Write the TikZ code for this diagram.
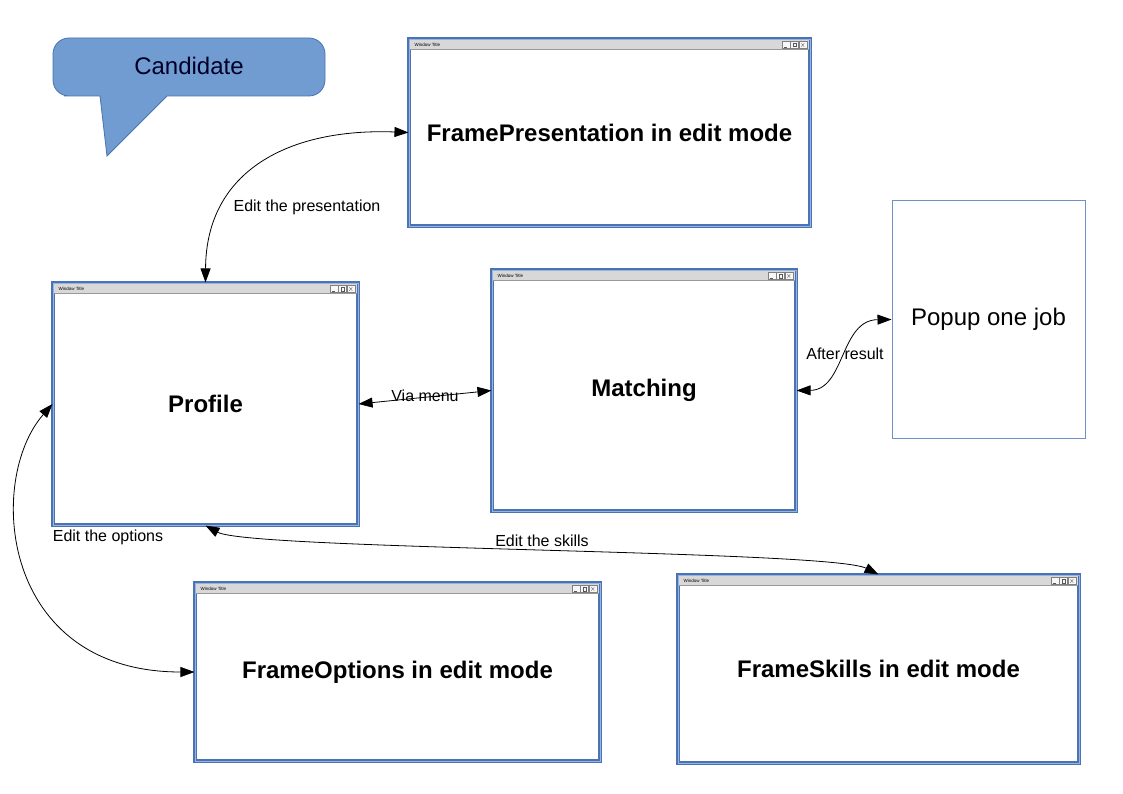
\documentclass[tikz,border=0pt]{standalone}
\usepackage{fontspec}
\setmainfont{Liberation Sans}
\usetikzlibrary{arrows.meta}
\definecolor{winblue}{RGB}{75,115,180}
\definecolor{winlight}{RGB}{150,180,225}
\definecolor{titlegray}{RGB}{216,216,216}
\definecolor{callfill}{RGB}{112,156,210}
\definecolor{calldraw}{RGB}{75,115,175}
\definecolor{popblue}{RGB}{110,145,200}
\tikzset{
 win/.style={draw=winblue, line width=1.1pt, double=winlight, double distance=0.9pt, fill=white, font=\fontsize{24}{28}\selectfont\bfseries, inner sep=0pt},
 popup/.style={draw=popblue, line width=1pt, fill=white, font=\fontsize{24}{28}\selectfont, inner sep=0pt},
 conn/.style={line width=0.8pt, {Triangle[length=14pt,width=10pt]}-{Triangle[length=14pt,width=10pt]}},
 elabel/.style={font=\fontsize{16}{19}\selectfont, inner sep=0pt},
 tbtn/.style={draw=gray, line width=0.4pt, fill=white!94!gray},
 tmark/.style={draw=gray!70!black, line width=0.3pt},
 ttext/.style={font=\fontsize{4.5}{5}\selectfont, anchor=west, inner sep=0pt}
}
\newcommand\winchrome[1]{%
 \fill[titlegray] ([shift={(1.8pt,-1.8pt)}]#1.north west) rectangle ([shift={(-1.8pt,-11pt)}]#1.north east);
 \draw[gray!80, line width=0.5pt] ([shift={(1.8pt,-11pt)}]#1.north west) -- ([shift={(-1.8pt,-11pt)}]#1.north east);
 \node[ttext] at ([shift={(6pt,-6.3pt)}]#1.north west) {Window Title};
 \foreach \i in {1,2,3} {
  \draw[tbtn] ([shift={({-3pt-\i*8.5pt},-3pt)}]#1.north east) rectangle ([shift={({-3.5pt-(\i-1)*8.5pt},-10pt)}]#1.north east);
 }
 \draw[tmark] ([shift={(-9.3pt,-4.8pt)}]#1.north east) -- ([shift={(-6.3pt,-8.2pt)}]#1.north east)
   ([shift={(-9.3pt,-8.2pt)}]#1.north east) -- ([shift={(-6.3pt,-4.8pt)}]#1.north east);
 \draw[tmark] ([shift={(-17.8pt,-4.8pt)}]#1.north east) rectangle ([shift={(-14.8pt,-8.2pt)}]#1.north east);
 \draw[tmark] ([shift={(-26.5pt,-8.4pt)}]#1.north east) -- ([shift={(-23.3pt,-8.4pt)}]#1.north east);
}
\begin{document}
\begin{tikzpicture}[x=1pt,y=-1pt]
\useasboundingbox (0,0) rectangle (1123,794);
\fill[white] (0,0) rectangle (1123,794);

% callout
\path[fill=callfill, draw=calldraw, line width=0.8pt] (80,96) -- (100,96) -- (107,156) -- (167,96) [rounded corners=16pt] -- (325,96) -- (325,38) -- (53,38) -- (53,96) -- cycle;
\node[font=\fontsize{24}{28}\selectfont, text=black!85!blue] (cand) at (189,66) {Candidate};

% windows
\node[win, minimum width=401pt, minimum height=187pt] (pres) at (609.5,132.5) {FramePresentation in edit mode};
\winchrome{pres}
\node[win, minimum width=305pt, minimum height=242pt] (prof) at (205.5,404) {Profile};
\winchrome{prof}
\node[win, minimum width=304pt, minimum height=241pt] (mat) at (644,390.5) {Matching};
\winchrome{mat}
\node[popup, minimum width=193pt, minimum height=237pt] (pop) at (988.5,319.5) {Popup one job};
\node[win, minimum width=405pt, minimum height=178pt] (opts) at (397.5,672) {FrameOptions in edit mode};
\winchrome{opts}
\node[win, minimum width=401pt, minimum height=188pt] (skills) at (878.5,669) {FrameSkills in edit mode};
\winchrome{skills}

% connectors
\draw[conn] (prof.north) .. controls (206,170) and (290,128) .. (pres.west);
\node[elabel] (lpres) at (307,207) {Edit the presentation};

\draw[conn] (prof.east) -- (mat.west);
\node[elabel] (lvia) at (425,396) {Via menu};

\draw[conn] (mat.east) .. controls (845,390) and (840,320) .. (pop.west);
\node[elabel] (lafter) at (845,354) {After result};

\draw[conn] (prof.west) .. controls (-14,480) and (0,672) .. (opts.west);
\node[elabel] (lopts) at (108,537) {Edit the options};

\draw[conn] (prof.south) .. controls (250,550) and (830,550) .. (skills.north);
\node[elabel] (lskills) at (542,541) {Edit the skills};
\end{tikzpicture}
\end{document}
